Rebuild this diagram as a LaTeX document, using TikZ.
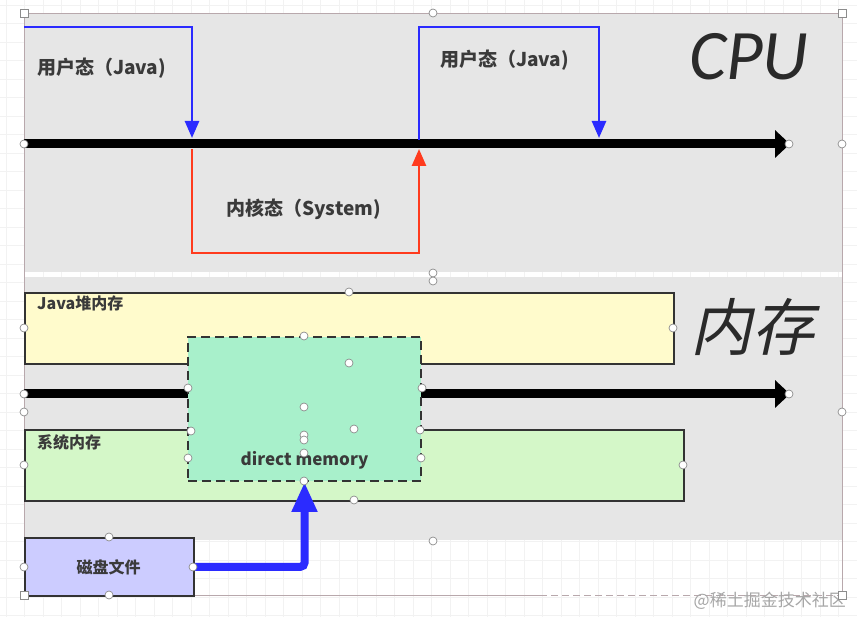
\documentclass[tikz,border=0pt]{standalone}
\usepackage{fontspec}
\usetikzlibrary{arrows.meta}
\newfontfamily\cjk{Noto Sans CJK SC}
\newfontfamily\cjkslant{Noto Sans CJK SC}[FakeSlant=0.22]
\newfontfamily\cpufont{Carlito}
\definecolor{panel}{HTML}{E6E6E6}
\definecolor{ublue}{HTML}{2B2BFF}
\definecolor{kred}{HTML}{FF3B1E}
\definecolor{heap}{HTML}{FFFBCC}
\definecolor{sysmem}{HTML}{D4F7C8}
\definecolor{direct}{HTML}{A8F0CB}
\definecolor{disk}{HTML}{CCCCFF}
\definecolor{txt}{HTML}{3A3A3A}
\definecolor{bigtxt}{HTML}{2A2A2A}
\definecolor{edge}{HTML}{333333}
\definecolor{frame}{HTML}{B8A8AC}
\tikzset{
  gridline/.style={draw=black!5, line width=0.6pt},
  membox/.style={draw=edge, line width=1.6pt, inner sep=0pt, anchor=north west},
  lbl/.style={text=txt, font=\cjk\bfseries\fontsize{19}{22}\selectfont, inner sep=0pt},
  smalllbl/.style={text=txt, font=\cjk\bfseries\fontsize{16}{19}\selectfont, inner sep=0pt},
  timeline/.style={line width=9pt, black, -{Triangle[length=15pt,width=27pt]}},
  userarrow/.style={line width=2.6pt, ublue, -{Triangle[length=17pt,width=14pt]}},
  kernelarrow/.style={line width=2.6pt, kred, -{Triangle[length=17pt,width=14pt]}},
  diskarrow/.style={line width=8pt, ublue, rounded corners=4pt, -{Triangle[length=30pt,width=24pt]}},
  handle/.style={circle, draw=black!45, fill=white, line width=0.7pt, minimum size=8pt, inner sep=0pt},
  sqhandle/.style={rectangle, draw=black!45, fill=white, line width=0.7pt, minimum size=8pt, inner sep=0pt},
}
\begin{document}
\begin{tikzpicture}[x=1pt,y=-1pt]
\useasboundingbox (0,0) rectangle (857,617);
\fill[white] (0,0) rectangle (857,617);
% faint grid
\foreach \gx in {6,24.5,...,857} \draw[gridline] (\gx,0) -- (\gx,617);
\foreach \gy in {5,23.5,...,617} \draw[gridline] (0,\gy) -- (857,\gy);
% panels
\fill[panel] (24,13) rectangle (842,272);
\fill[panel] (24,277) rectangle (842,540);
% selection frame
\draw[frame, line width=0.8pt] (24,13) -- (842,13) -- (842,595);
\draw[frame, line width=0.8pt] (24,13) -- (24,595) -- (540,595);
\draw[frame, line width=0.8pt, dash pattern=on 7pt off 4pt] (540,595) -- (842,595);

% ---------- CPU ----------
\coordinate (t0) at (24,144);
\coordinate (t1) at (790,144);
\draw[timeline] (t0) -- (t1);

\coordinate (u1s) at (24,27);
\coordinate (u1e) at (192,138);
\draw[userarrow] (u1s) -| (u1e);

\coordinate (k0) at (192,149);
\coordinate (kb) at (419,253);
\coordinate (k1) at (419,149);
\draw[kernelarrow] (k0) |- (kb) -- (k1);

\coordinate (u2s) at (419,140);
\coordinate (u2t) at (599,27);
\coordinate (u2e) at (599,138);
\draw[userarrow] (u2s) |- (u2t) -- (u2e);

\node[lbl, anchor=west] (user1) at (37,68) {用户态（Java)};
\node[lbl, anchor=west] (user2) at (440,60) {用户态（Java)};
\node[lbl, anchor=west] (kernel) at (226,209) {内核态（System)};
\node[text=bigtxt, font=\cpufont\itshape\fontsize{71}{71}\selectfont, inner sep=0pt, anchor=west] (cpu) at (689,57) {CPU};

% ---------- Memory ----------
\node[membox, fill=heap, minimum width=649pt, minimum height=71pt] (heapbox) at (24,292) {};
\node[smalllbl, anchor=west] (heaplbl) at (37,303) {Java堆内存};
\node[membox, fill=sysmem, minimum width=659pt, minimum height=71pt] (sysbox) at (24,429) {};
\node[smalllbl, anchor=west] (syslbl) at (37,442) {系统内存};

\coordinate (m0) at (24,394);
\coordinate (m1) at (790,394);
\draw[timeline] (m0) -- (m1);

\node[draw=edge, line width=1.8pt, dash pattern=on 9pt off 5pt, fill=direct, minimum width=233pt, minimum height=144pt, inner sep=0pt] (directbox) at (304.5,409) {};
\node[smalllbl, font=\cjk\bfseries\fontsize{17}{20}\selectfont] (directlbl) at (304.5,460) {direct memory};

\node[text=bigtxt, font=\cjkslant\fontsize{62}{62}\selectfont, inner sep=0pt, anchor=west] (neicun) at (690,327) {内存};

\node[membox, fill=disk, minimum width=169pt, minimum height=58pt] (diskbox) at (24,537) {};
\node[smalllbl] (disklbl) at (108.5,567) {磁盘文件};

\draw[diskarrow] (diskbox.east) -| (directbox.south);

% watermark
\node[text=black!35, font=\cjk\fontsize{17}{20}\selectfont, inner sep=0pt, anchor=east] (wm) at (846,601) {@稀土掘金技术社区};

% editor handles
\foreach \hp [count=\hi] in {(433,13),(24,144),(789,144),(842,144),(433,273),(433,281),
  (349,292),(24,328),(673,328),(24,394),(24,412),(789,394),(842,412),
  (304,336),(349,363),(188,388),(422,388),(304,407),(191,431),(354,429),(420,430),
  (304,435),(304,440),(304,453),(188,458),(421,458),(24,465),(683,465),
  (304,481),(354,500),(433,541),(109,537),(24,567),(193,567),(109,595)}
  \node[handle] (h\hi) at \hp {};
\foreach \sp [count=\si] in {(24,13),(842,13),(24,595),(842,595)}
  \node[sqhandle] (s\si) at \sp {};
\end{tikzpicture}
\end{document}
